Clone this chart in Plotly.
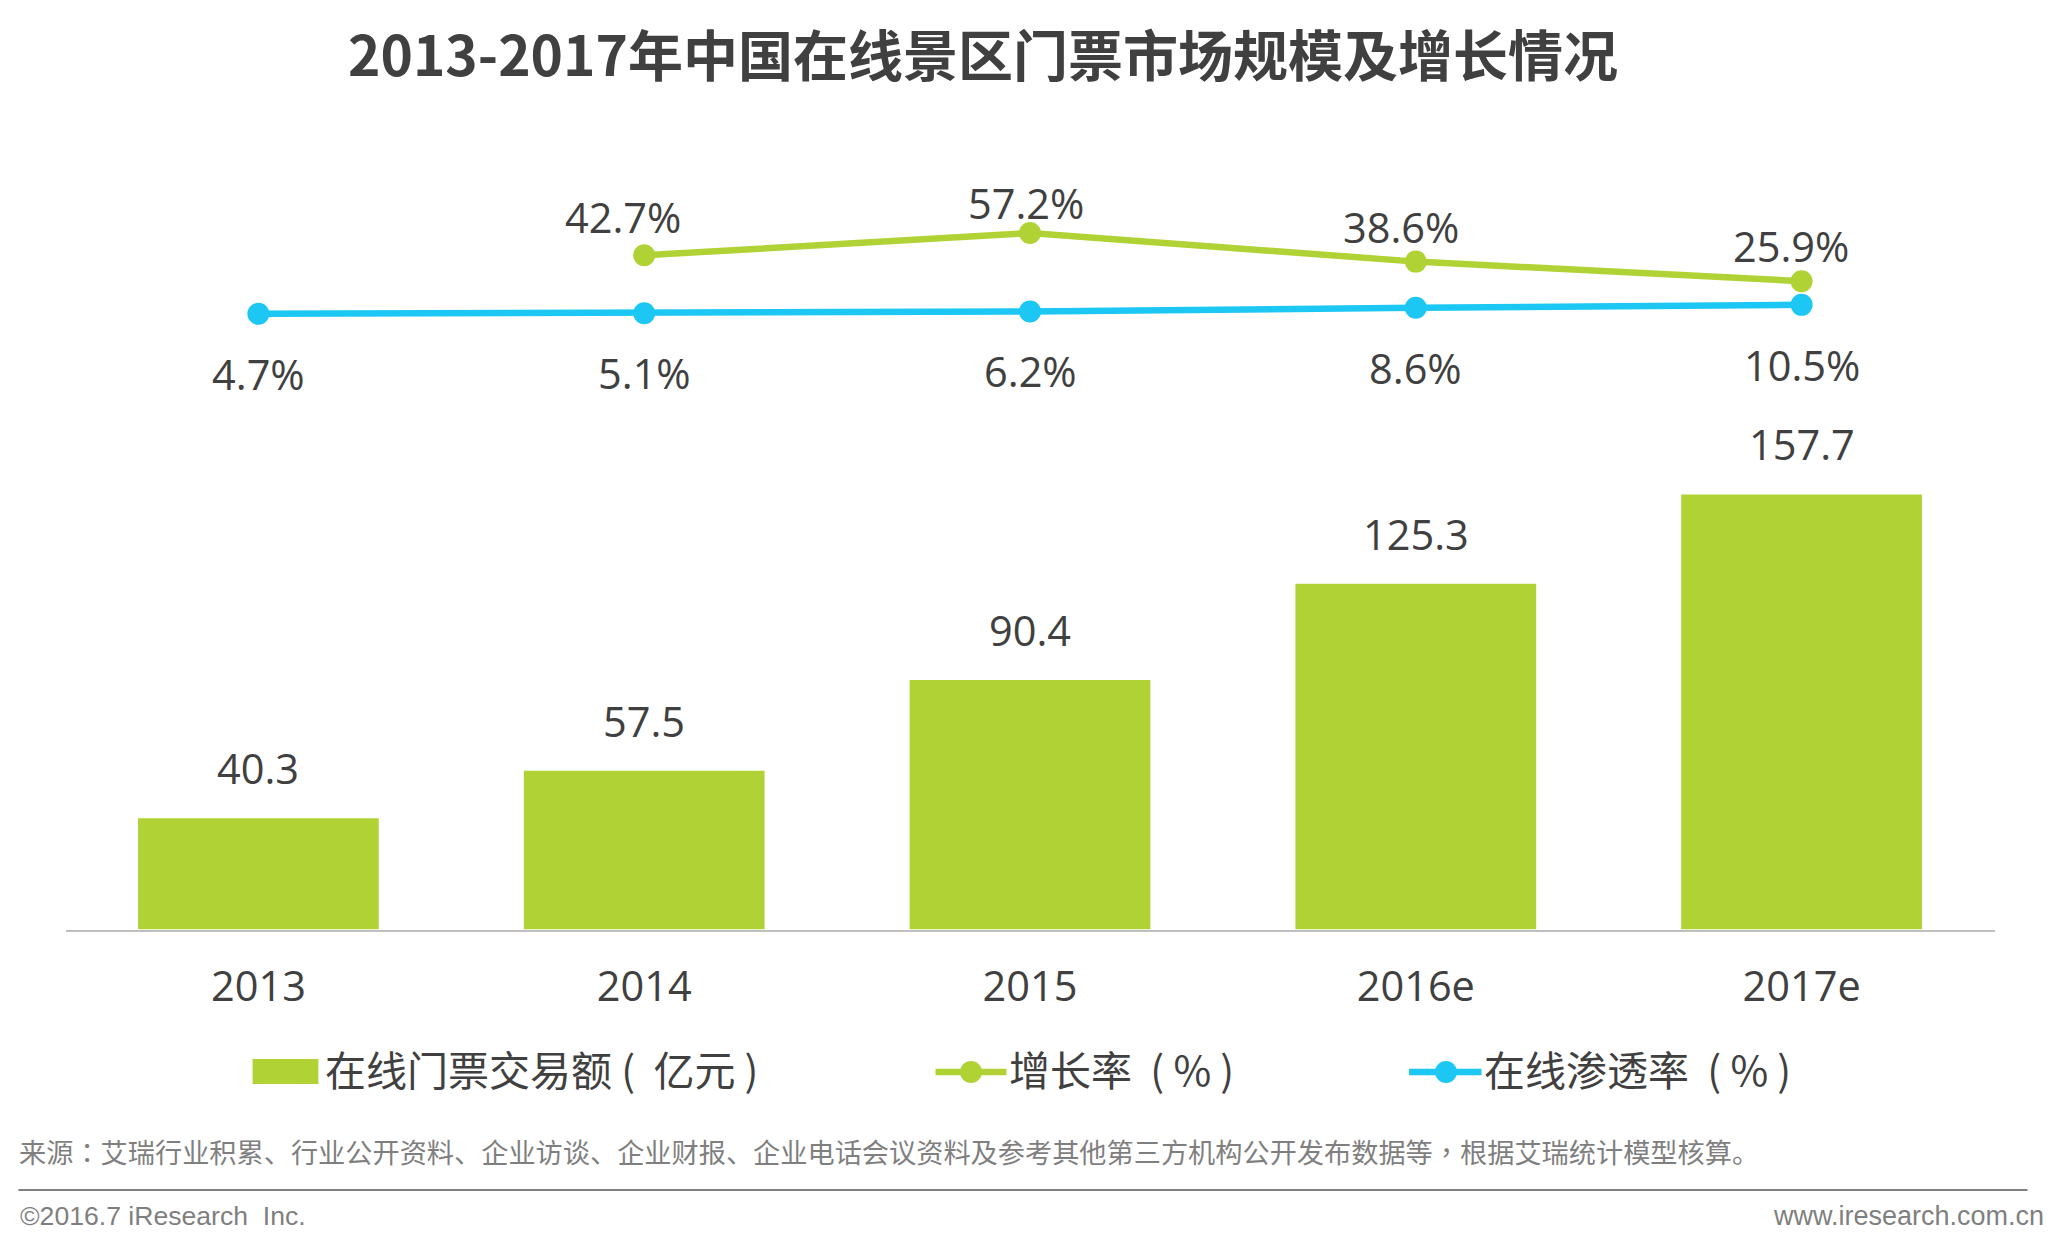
import plotly.graph_objects as go

years = ['2013', '2014', '2015', '2016e', '2017e']
volume = [40.3, 57.5, 90.4, 125.3, 157.7]
growth = [None, 42.7, 57.2, 38.6, 25.9]
online_rate = [4.7, 5.1, 6.2, 8.6, 10.5]

title = '2013-2017年中国在线景区门票市场规模及增长情况'
name_volume = '在线门票交易额 (  亿元 )'
name_growth = '增长率  ( % )'
name_rate = '在线渗透率  ( % )'
source = '来源：艾瑞行业积累、行业公开资料、企业访谈、企业财报、企业电话会议资料及参考其他第三方机构公开发布数据等，根据艾瑞统计模型核算。'
copyright_text = '©2016.7 iResearch  Inc.'
site = 'www.iresearch.com.cn'

GREEN = '#B0D235'
BLUE = '#1CC8F3'
DARK = '#404040'
GREY = '#7F7F7F'
FONT = 'Open Sans, Noto Sans CJK SC'
CJK = 'Noto Sans CJK SC'

# page has a default 8px body margin, so the figure is smaller and shifted
W, H = 2047, 1236


def fx(px):
    return (px - 8) / W


def fy(py):
    return 1 - (py - 8) / H


fig = go.Figure()
fig.add_trace(go.Bar(x=years, y=volume, name=name_volume, marker=dict(color=GREEN, line=dict(width=0)),
                     width=0.624, yaxis='y', showlegend=False))
fig.add_trace(go.Scatter(x=years, y=growth, name=name_growth, mode='lines+markers', yaxis='y2',
                         line=dict(color=GREEN, width=6.5), marker=dict(color=GREEN, size=22), showlegend=False))
fig.add_trace(go.Scatter(x=years, y=online_rate, name=name_rate, mode='lines+markers', yaxis='y2',
                         line=dict(color=BLUE, width=6.5), marker=dict(color=BLUE, size=22), showlegend=False))

annotations = []


def label(text, x, y, yref, xshift=0, yshift=0, size=41.5):
    # x is the category index, a string like '2013' gets read as a number
    annotations.append(dict(text=text, x=x, y=y, xref='x', yref=yref, xshift=xshift, yshift=yshift,
                            showarrow=False, xanchor='center', yanchor='middle',
                            font=dict(family=FONT, size=size, color=DARK)))


def page_text(text, px, py, size, color=DARK, family=CJK, anchor='left'):
    annotations.append(dict(text=text, x=fx(px), y=fy(py), xref='paper', yref='paper', showarrow=False,
                            xanchor=anchor, yanchor='middle', font=dict(family=family, size=size, color=color)))


for i, v in enumerate(volume):
    label(f'{v:.1f}', i, v, 'y', yshift=50)

growth_dx = [-21, -4, -15, -11]
growth_dy = [38.5, 30.5, 34.5, 35.5]
for i, dx, dy in zip(range(1, 5), growth_dx, growth_dy):
    label(f'{growth[i]:.1f}%', i, growth[i], 'y2', xshift=dx, yshift=dy)

for i, v in enumerate(online_rate):
    label(f'{v:.1f}%', i, v, 'y2', yshift=-60)

# the colon and comma sit centred in the reference, the TC face draws them that way
tc_span = '<span style="font-family:Noto Sans CJK TC">%s</span>'
source_text = source.replace('：', tc_span % '：').replace('，', tc_span % '，')

page_text(f'<b>{title}</b>', 983.4, 52, 55, anchor='center')
page_text(name_volume, 323, 1068, 41)
page_text(name_growth, 1007, 1068, 41)
page_text(name_rate, 1481.5, 1068, 41)
page_text(source_text, 16.5, 1151, 27.2, color=GREY)
page_text(copyright_text, 17.5, 1215.5, 26.6, color=GREY, family='Liberation Sans')
page_text(site, 2046, 1215.5, 27, color=GREY, family='Liberation Sans', anchor='right')

shapes = [
    dict(type='rect', xref='paper', yref='paper', x0=fx(252.6), x1=fx(318.4), y0=fy(1084), y1=fy(1059),
         fillcolor=GREEN, line=dict(width=0)),
    dict(type='line', xref='paper', yref='paper', x0=fx(935.5), x1=fx(1006.5), y0=fy(1072), y1=fy(1072),
         line=dict(color=GREEN, width=6.5)),
    dict(type='circle', xref='paper', yref='paper', x0=fx(960), x1=fx(982), y0=fy(1083), y1=fy(1061),
         fillcolor=GREEN, line=dict(width=0)),
    dict(type='line', xref='paper', yref='paper', x0=fx(1409), x1=fx(1481.5), y0=fy(1072), y1=fy(1072),
         line=dict(color=BLUE, width=6.5)),
    dict(type='circle', xref='paper', yref='paper', x0=fx(1435), x1=fx(1457), y0=fy(1083), y1=fy(1061),
         fillcolor=BLUE, line=dict(width=0)),
    dict(type='line', xref='paper', yref='paper', x0=fx(18.4), x1=fx(2027.5), y0=fy(1190), y1=fy(1190),
         line=dict(color=GREY, width=2)),
]

fig.update_layout(
    width=W, height=H, margin=dict(l=0, r=0, t=0, b=0), autosize=False,
    paper_bgcolor='white', plot_bgcolor='white',
    annotations=annotations, shapes=shapes,
    xaxis=dict(domain=[fx(65.5), fx(1994.5)], type='category', range=[-0.5, 4.5], anchor='y',
               showline=True, linecolor='#BFBFBF', linewidth=2, ticks='', showgrid=False,
               ticklabelstandoff=20, tickfont=dict(family=FONT, size=41.5, color=DARK)),
    # 2.762 px per unit on the bars
    yaxis=dict(domain=[fy(929.5), fy(418.5)], range=[0, 185.2], visible=False, showgrid=False, zeroline=False),
    # 1.539 px per point on both rate lines
    yaxis2=dict(domain=[fy(367.2), fy(213.3)], range=[-30, 70], anchor='x', visible=False, showgrid=False,
                zeroline=False),
)

fig.write_html("out.html")
